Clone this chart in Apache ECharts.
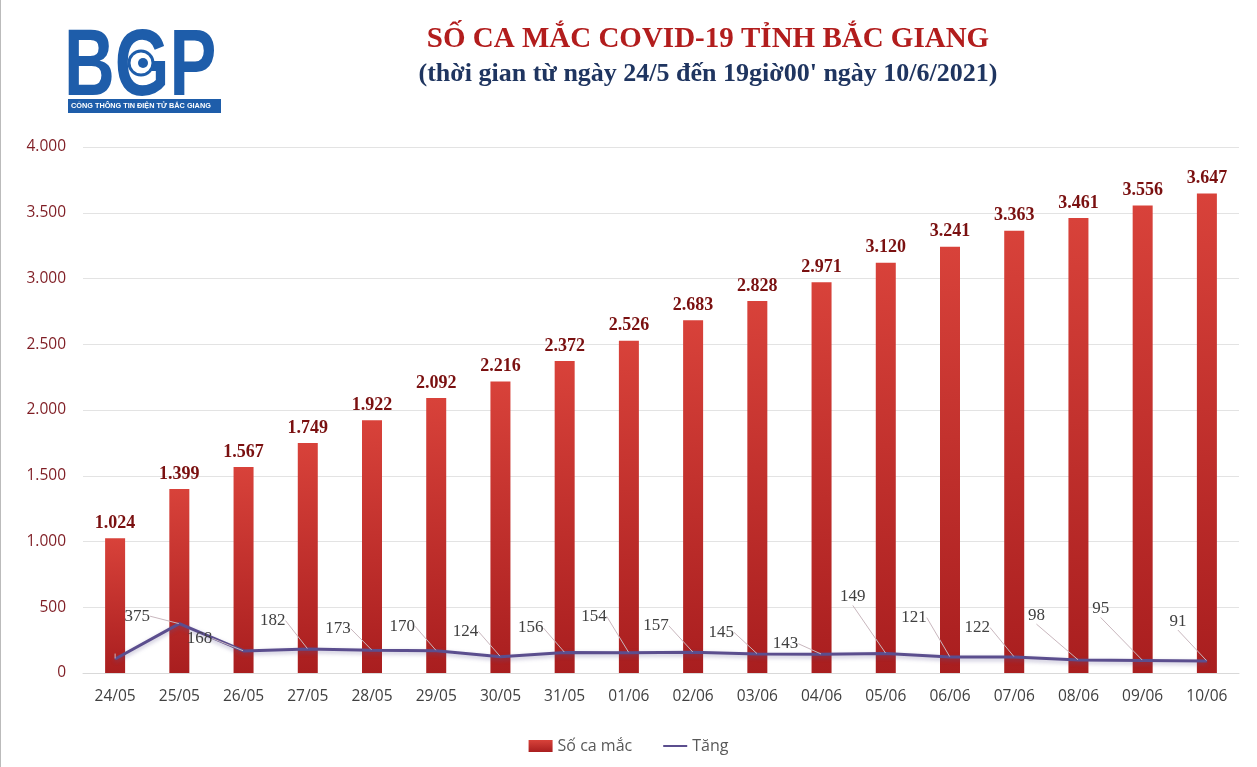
<!DOCTYPE html>
<html><head><meta charset="utf-8">
<script src="https://cdn.jsdelivr.net/npm/echarts@6/dist/echarts.min.js"></script>
<style>html,body{margin:0;padding:0;background:#fff}#c{width:1257px;height:767px}</style>
</head><body><div id="c"></div>
<script>
const categories = ['24/05','25/05','26/05','27/05','28/05','29/05','30/05','31/05','01/06','02/06','03/06','04/06','05/06','06/06','07/06','08/06','09/06','10/06'];
const totalCases = [1024,1399,1567,1749,1922,2092,2216,2372,2526,2683,2828,2971,3120,3241,3363,3461,3556,3647];
const increase = [106,375,168,182,173,170,124,156,154,157,145,143,149,121,122,98,95,91];
const yTicks = [0,500,1000,1500,2000,2500,3000,3500,4000];
// label offsets (label centre relative to its point), styling only
const labelOffsets = [[0,0],[-42,-7],[-44,-12],[-35,-28],[-34,-21],[-34,-24],[-35,-25],[-34,-24],[-35,-36],[-37,-26],[-36,-21],[-36,-10],[-33,-56],[-36,-39],[-37,-29],[-42,-44],[-42,-51],[-29,-39]];

const fmt = v => String(v).replace(/\B(?=(\d{3})+(?!\d))/g, '.');
const chart = echarts.init(document.getElementById('c'));
chart.setOption({
  animation: false,
  backgroundColor: '#fff',
  title: [
    {text: 'SỐ CA MẮC COVID-19 TỈNH BẮC GIANG', left: 703, top: 20, textAlign: 'center',
     textStyle: {fontFamily: 'Liberation Serif', fontWeight: 'bold', fontSize: 29, color: '#B21D1D'}},
    {text: "(thời gian từ ngày 24/5 đến 19giờ00' ngày 10/6/2021)", left: 703, top: 56, textAlign: 'center',
     textStyle: {fontFamily: 'Liberation Serif', fontWeight: 'bold', fontSize: 26, color: '#1F3560'}}
  ],
  graphic: [
    {type: 'rect', shape: {x: 0, y: 0, width: 1, height: 767}, style: {fill: '#bbb'}},
    {type: 'text', x: 64, y: 21, scaleX: 0.74, style: {text: 'BGP', font: 'bold 95px "Liberation Sans"', fill: '#1E5DAA'}},
    {type: 'circle', shape: {cx: 141, cy: 63, r: 12}, style: {fill: '#fff', stroke: '#1E5DAA', lineWidth: 3}},
    {type: 'circle', shape: {cx: 143, cy: 63, r: 5}, style: {fill: '#1E5DAA'}},
    {type: 'rect', shape: {x: 68, y: 99, width: 153, height: 14}, style: {fill: '#1E5DAA'}},
    {type: 'text', x: 71, y: 102, style: {text: 'CỔNG THÔNG TIN ĐIỆN TỬ BẮC GIANG', font: 'bold 7.3px "Liberation Sans"', fill: '#fff'}}
  ],
  legend: {
    bottom: 8, left: 'center', itemGap: 30, itemWidth: 24, itemHeight: 12,
    textStyle: {fontFamily: 'Open Sans', fontSize: 16, color: '#595959'},
    data: [{name: 'Số ca mắc', icon: 'rect'}, {name: 'Tăng', itemStyle: {opacity: 0}}]
  },
  grid: {left: 83, right: 18, top: 147, bottom: 94, containLabel: false},
  xAxis: {
    type: 'category', data: categories,
    axisLine: {lineStyle: {color: '#D9D9D9'}}, axisTick: {show: false},
    axisLabel: {color: '#404040', fontFamily: 'Open Sans', fontSize: 15.5, margin: 16}
  },
  yAxis: {
    type: 'value', min: 0, max: 4000, interval: 500,
    axisLabel: {color: '#7F1D24', fontFamily: 'Open Sans', fontSize: 15.5, margin: 17, formatter: v => fmt(v)},
    splitLine: {lineStyle: {color: '#E3E3E3'}},
    axisLine: {show: false}, axisTick: {show: false}
  },
  series: [
    {
      name: 'Số ca mắc', type: 'bar', data: totalCases, barWidth: 20,
      itemStyle: {color: new echarts.graphic.LinearGradient(0,0,0,1,[{offset:0,color:'#D8423A'},{offset:1,color:'#A91E1F'}])},
      label: {show: true, position: 'top', distance: 6, formatter: p => fmt(p.value),
        fontFamily: 'Liberation Serif', fontWeight: 'bold', fontSize: 18, color: '#7A1010'}
    },
    {
      name: 'Tăng', type: 'line', data: increase, symbol: 'circle', symbolSize: 1, showSymbol: true, z: 5,
      lineStyle: {color: '#5B4E8E', width: 3, shadowColor: 'rgba(90,80,140,0.4)', shadowBlur: 4, shadowOffsetY: 2},
      itemStyle: {color: '#5B4E8E'},
      label: {show: true, position: 'top', distance: 5,
        formatter: p => p.dataIndex === 0 ? '' : String(p.value),
        fontFamily: 'Liberation Serif', fontSize: 17, color: '#404040'},
      labelLine: {show: true, lineStyle: {color: '#C9B7BE', width: 1}},
      labelLayout: p => {
        const o = labelOffsets[p.dataIndex];
        if (p.dataIndex === 0) return {};
        const cx = p.labelRect.x + p.labelRect.width / 2;
        const cy = p.labelRect.y + p.labelRect.height / 2;
        const px = cx, py = cy + 5 + p.labelRect.height / 2;
        return {dx: px + o[0] - cx, dy: py + o[1] - cy};
      }
    }
  ]
});
</script></body></html>
